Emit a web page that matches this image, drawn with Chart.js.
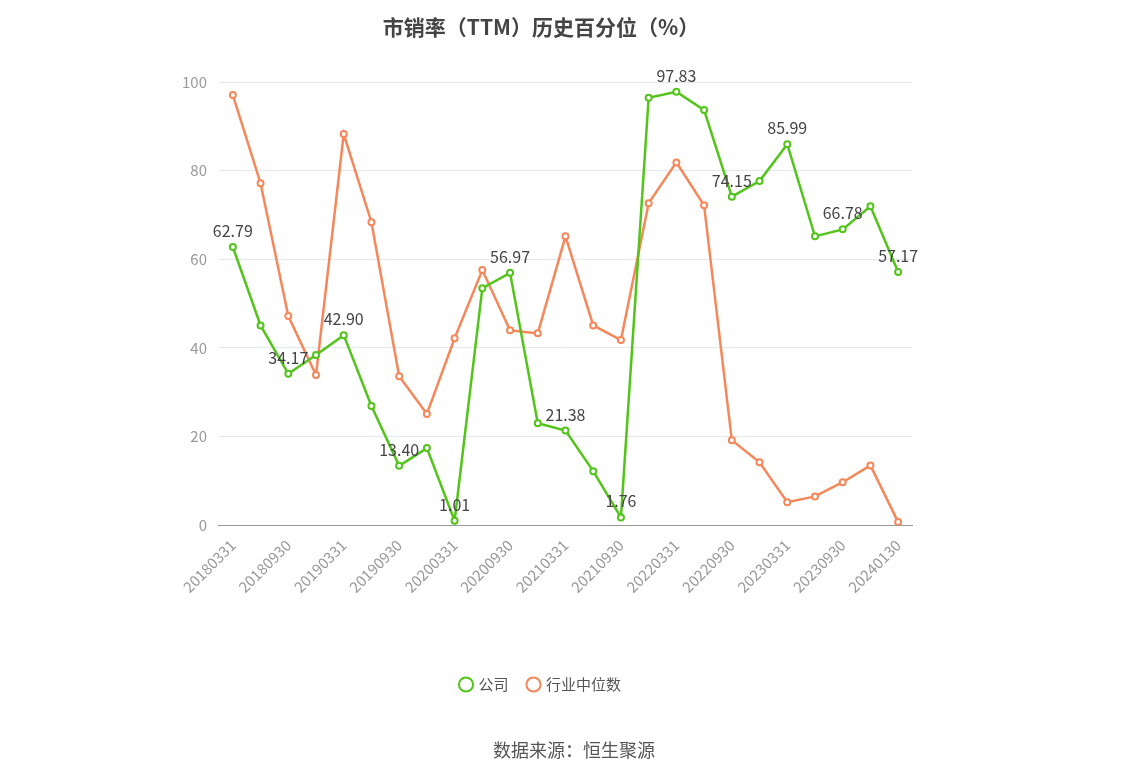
<!DOCTYPE html>
<html><head><meta charset="utf-8">
<script src="https://cdn.jsdelivr.net/npm/chart.js@4/dist/chart.umd.min.js"></script>
<style>html,body{margin:0;padding:0;background:#fff}#wrap{width:1148px;height:776px;position:relative}
#src{position:absolute;top:736px;width:1148px;text-align:center;font:18px "Noto Sans CJK SC";color:#555}</style>
</head><body><div id="wrap"><canvas id="c" width="1148" height="776"></canvas><div id="src">数据来源：恒生聚源</div></div>
<script>
const categories=["20180331","20180630","20180930","20181231","20190331","20190630","20190930","20191231","20200331","20200630","20200930","20201231","20210331","20210630","20210930","20211231","20220331","20220630","20220930","20221231","20230331","20230630","20230930","20231231","20240130"];
const companyValues=[62.79,45.1,34.17,38.4,42.90,26.9,13.40,17.4,1.01,53.5,56.97,23.0,21.38,12.2,1.76,96.5,97.83,93.7,74.15,77.7,85.99,65.2,66.78,72.0,57.17];
const industryValues=[97.1,77.2,47.2,33.9,88.3,68.4,33.6,25.1,42.2,57.6,44.0,43.3,65.2,45.1,41.8,72.7,81.9,72.2,19.2,14.2,5.2,6.5,9.7,13.5,0.7];
const labeledIdx=[0,2,4,6,8,10,12,14,16,18,20,22,24];
const F='"Noto Sans CJK SC", "Noto Sans", sans-serif';
const labelPlugin={id:'lbl',afterDatasetsDraw(ch){const ctx=ch.ctx;const m=ch.getDatasetMeta(0);ctx.save();ctx.font='16px '+F;ctx.fillStyle='#444';ctx.textAlign='center';ctx.textBaseline='bottom';
labeledIdx.forEach(i=>{const p=m.data[i];ctx.fillText(companyValues[i].toFixed(2),p.x,p.y-8);});ctx.restore();}};
new Chart(document.getElementById('c'),{type:'line',
data:{labels:categories,datasets:[
{label:'公司',data:companyValues,borderColor:'#52c41a',backgroundColor:'#fff',borderWidth:2.5,pointRadius:3,pointBorderWidth:2,pointBackgroundColor:'#fff',tension:0},
{label:'行业中位数',data:industryValues,borderColor:'#f5875a',backgroundColor:'#fff',borderWidth:2.5,pointRadius:3,pointBorderWidth:2,pointBackgroundColor:'#fff',tension:0}]},
options:{responsive:false,animation:false,
layout:{padding:{left:170,right:236,top:10,bottom:74}},
plugins:{title:{display:true,text:'市销率（TTM）历史百分位（%）',font:{family:F,size:21,weight:'bold'},color:'#444',padding:{top:4,bottom:43}},
legend:{position:'bottom',labels:{usePointStyle:true,pointStyle:'circle',font:{family:F,size:15},color:'#555',padding:20,boxWidth:10,boxHeight:10},
 onClick:null},tooltip:{enabled:false}},
scales:{x:{offset:true,grid:{display:false,drawTicks:true},border:{color:'#999'},afterFit:(s)=>{s.height+=58;},
 ticks:{autoSkip:false,maxRotation:45,minRotation:45,color:'#999',font:{family:F,size:15},callback:(v,i)=>i%2===0?categories[i]:''}},
 y:{min:0,max:100,ticks:{stepSize:20,color:'#999',font:{family:F,size:15},padding:12},grid:{color:'#e3e7ef',drawTicks:false},border:{display:false}}}},
plugins:[labelPlugin]});
</script></body></html>
